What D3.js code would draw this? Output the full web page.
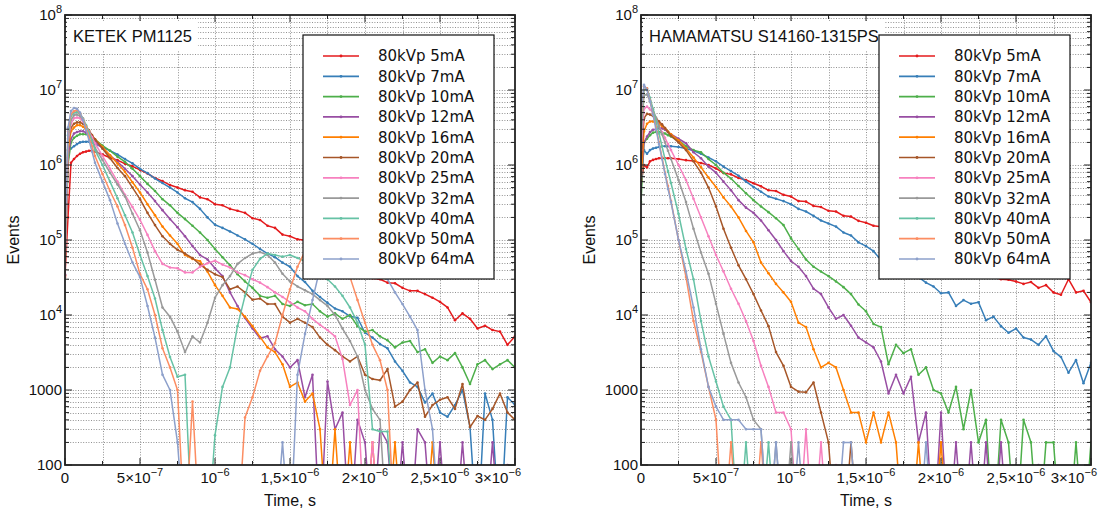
<!DOCTYPE html>
<html><head><meta charset="utf-8">
<script src="https://cdn.jsdelivr.net/npm/d3@7"></script>
<style>
body{margin:0;background:#fff;}
svg{display:block;}
</style></head><body>
<svg id="chart" width="1099" height="510"></svg>
<script>
// time axis, nanoseconds
const timesNs = [0,20,40,60,80,100,120,140,160,180,200,
  250,300,350,400,450,500,550,600,650,700,
  750,800,850,900,950,1000,1050,1100,1150,1200,
  1250,1300,1350,1400,1450,1500,1550,1600,1650,1700,
  1750,1800,1850,1900,1950,2000,2050,2100,2150,2200,
  2250,2300,2350,2400,2450,2500,2550,2600,2650,2700,
  2750,2800,2850,2900,2950,3000];

const seriesLabels = ["80kVp 5mA","80kVp 7mA","80kVp 10mA","80kVp 12mA","80kVp 16mA","80kVp 20mA",
  "80kVp 25mA","80kVp 32mA","80kVp 40mA","80kVp 50mA","80kVp 64mA"];
const seriesColors = ["#e41a1c","#377eb8","#4daf4a","#984ea3","#ff7f00","#a65628",
  "#f781bf","#999999","#66c2a5","#fc8d62","#8da0cb"];

const panelTitles = ["KETEK PM1125","HAMAMATSU S14160-1315PS"];

// ---- KETEK PM1125 (events per time bin) ----
const ketek5 = [3.4e4,2.0e5,1.07e6,1.2e6,1.32e6,1.41e6,1.48e6,1.51e6,1.55e6,1.55e6,1.51e6,
  1.38e6,1.25e6,1.16e6,1.04e6,9.6e5,8.6e5,7.7e5,6.7e5,6.1e5,5.4e5,
  5.0e5,4.6e5,4.4e5,3.7e5,3.5e5,3.0e5,2.9e5,2.6e5,2.45e5,2.3e5,
  1.95e5,1.85e5,1.55e5,1.45e5,1.18e5,1.12e5,1.02e5,9.9e4,8.4e4,7.5e4,
  6.2e4,5.6e4,4.7e4,4.3e4,3.6e4,3.4e4,3.1e4,3.0e4,2.7e4,2.65e4,
  2.3e4,2.1e4,2.1e4,1.9e4,1.7e4,1.5e4,1.26e4,8500,1.05e4,8900,
  6600,7200,6300,6000,4000,5200];
const ketek7 = [5.0e4,1.58e6,1.66e6,1.78e6,1.9e6,2.0e6,2.04e6,2.04e6,2.04e6,2.0e6,1.9e6,
  1.74e6,1.55e6,1.38e6,1.2e6,1.05e6,8.9e5,7.8e5,6.6e5,5.75e5,5.0e5,
  4.3e5,3.6e5,3.2e5,2.6e5,2.0e5,1.6e5,1.45e5,1.3e5,1.15e5,1.02e5,
  8.9e4,7.6e4,6.6e4,5.9e4,5.0e4,4.4e4,3.3e4,2.75e4,2.1e4,1.74e4,
  1.45e4,1.22e4,1.12e4,9600,9200,5800,5000,4100,3600,2400,
  1800,1260,1100,680,900,500,440,630,1000,320,
  0,900,400,0,800,630];
const ketek10 = [4.0e4,1.0e6,2.0e6,2.3e6,2.45e6,2.57e6,2.57e6,2.57e6,2.5e6,2.35e6,2.2e6,
  1.82e6,1.55e6,1.29e6,1.1e6,8.9e5,7.1e5,5.6e5,4.5e5,3.5e5,2.9e5,
  2.3e5,1.9e5,1.55e5,1.26e5,1.0e5,7.6e4,5.9e4,4.6e4,3.5e4,2.8e4,
  2.3e4,1.8e4,1.7e4,1.8e4,1.4e4,1.32e4,1.5e4,1.35e4,1.4e4,1.12e4,
  9500,1.05e4,8900,1.0e4,7100,6000,6300,5200,4600,3700,
  4300,4500,3200,3500,2300,2800,2500,3100,2000,1200,
  2200,2500,1900,2200,2500,2000];
const ketek12 = [3.5e4,1.26e6,2.24e6,2.63e6,2.75e6,2.82e6,2.82e6,2.7e6,2.5e6,2.3e6,2.04e6,
  1.66e6,1.35e6,1.1e6,8.9e5,7.1e5,5.5e5,4.3e5,3.3e5,2.5e5,1.9e5,
  1.48e5,1.12e5,8.3e4,6.3e4,5.5e4,4.2e4,3.3e4,2.0e4,1.32e4,9100,
  6600,4900,5200,3500,2800,2000,2500,800,1600,0,
  1300,300,500,0,400,200,0,300,200,0,
  200,0,300,200,0,200,0,0,200,0,
  100,0,200,0,100,0];
const ketek16 = [3.2e4,1.58e6,2.82e6,3.16e6,3.4e6,3.4e6,3.24e6,3.0e6,2.75e6,2.45e6,2.2e6,
  1.74e6,1.35e6,1.05e6,8.1e5,5.9e5,4.3e5,3.0e5,2.14e5,1.51e5,1.15e5,
  8.9e4,6.3e4,5.6e4,5.2e4,3.8e4,2.5e4,1.8e4,1.26e4,1.2e4,9500,
  7100,5100,3700,3200,2200,1100,1260,700,900,300,
  0,300,0,200,0,0,200,0,0,200,
  0,0,0,0,200,0,0,0,0,0,
  0,0,0,0,0,0];
const ketek20 = [4.0e4,2.0e6,3.16e6,3.55e6,3.7e6,3.7e6,3.55e6,3.24e6,2.9e6,2.5e6,2.2e6,
  1.66e6,1.23e6,9.1e5,7.1e5,5.0e5,3.5e5,2.3e5,1.58e5,1.12e5,8.9e4,
  7.4e4,6.6e4,5.75e4,4.7e4,4.0e4,3.5e4,3.2e4,2.2e4,2.4e4,2.0e4,
  1.6e4,1.66e4,1.4e4,1.4e4,9500,7900,8900,7900,6900,5000,
  4000,3400,2800,2400,2800,1600,1400,1350,1900,600,
  700,1000,1260,440,630,740,800,560,1200,320,
  450,400,560,900,500,400];
const ketek25 = [3.2e4,2.0e6,3.55e6,4.2e6,4.3e6,4.2e6,3.8e6,3.3e6,2.8e6,2.35e6,1.95e6,
  1.32e6,8.9e5,6.0e5,4.0e5,2.75e5,1.86e5,1.17e5,7.1e4,4.8e4,4.3e4,
  4.2e4,3.7e4,3.7e4,4.4e4,4.9e4,5.3e4,4.7e4,4.3e4,3.7e4,3.4e4,
  3.0e4,2.7e4,2.35e4,2.0e4,1.74e4,1.48e4,1.26e4,1.12e4,8900,7400,
  6300,5200,2600,630,1000,0,200,0,0,0,
  0,0,0,0,0,0,0,0,0,0,
  0,0,0,0,0,0];
const ketek32 = [5.0e4,2.24e6,4.0e6,4.6e6,4.7e6,4.5e6,4.0e6,3.3e6,2.7e6,2.14e6,1.7e6,
  1.17e6,7.9e5,5.5e5,3.8e5,2.24e5,1.35e5,6.8e4,2.95e4,1.26e4,9500,
  6000,3200,5200,4300,7900,1.7e4,2.5e4,3.3e4,4.8e4,5.75e4,
  6.6e4,6.9e4,6.3e4,5.0e4,3.55e4,2.8e4,2.4e4,2.14e4,1.9e4,1.58e4,
  1.32e4,1.0e4,6600,4500,2800,1000,560,400,0,0,
  0,0,0,0,0,0,0,0,0,0,
  0,0,0,0,0,0];
const ketek40 = [6.3e4,2.5e6,4.5e6,5.0e6,5.1e6,4.8e6,4.2e6,3.4e6,2.7e6,2.1e6,1.58e6,
  1.0e6,6.0e5,3.6e5,2.14e5,1.26e5,6.3e4,3.3e4,1.66e4,6300,2750,
  1500,1600,0,0,0,250,1100,2000,7100,1.8e4,
  4.0e4,5.6e4,6.6e4,6.3e4,6.0e4,6.3e4,5.75e4,5.2e4,4.5e4,3.8e4,
  3.0e4,2.4e4,1.8e4,1.26e4,7900,4000,300,280,280,0,
  0,0,0,0,0,0,0,0,0,0,
  0,0,0,0,0,0];
const ketek50 = [6.3e4,2.8e6,4.8e6,5.2e6,5.4e6,4.9e6,4.1e6,3.2e6,2.4e6,1.78e6,1.32e6,
  7.6e5,4.5e5,2.8e5,1.58e5,7.9e4,3.5e4,2.2e4,1.0e4,3600,2000,
  1000,0,700,0,0,0,0,0,0,430,
  800,1800,2800,4200,1.0e4,2.2e4,4.4e4,7.1e4,8.9e4,1.0e5,
  1.0e5,7.9e4,5.0e4,3.2e4,1.58e4,7900,4000,2500,1000,0,
  0,0,0,0,0,0,0,0,0,0,
  0,0,0,0,0,0];
const ketek64 = [7.9e4,3.16e6,5.25e6,5.75e6,5.6e6,5.0e6,4.0e6,2.95e6,2.14e6,1.51e6,1.07e6,
  6.0e5,3.4e5,1.66e5,8.9e4,5.0e4,3.2e4,1.32e4,5000,1600,1000,
  200,0,0,0,0,0,0,0,0,0,
  0,0,0,0,200,0,1600,5600,1.58e4,4.2e4,
  7.1e4,1.0e5,1.26e5,1.4e5,1.4e5,1.26e5,1.0e5,6.3e4,3.0e4,2.0e4,
  1.4e4,9500,6300,1000,300,0,0,0,0,0,
  0,0,0,0,0,0];

// ---- HAMAMATSU S14160-1315PS ----
const hama5 = [5.75e5,1.0e6,9.3e5,1.12e6,1.17e6,1.2e6,1.23e6,1.23e6,1.23e6,1.23e6,1.23e6,
  1.2e6,1.16e6,1.13e6,1.06e6,1.0e6,9.0e5,7.8e5,7.5e5,6.7e5,6.3e5,
  5.7e5,5.2e5,4.6e5,4.5e5,4.0e5,3.8e5,3.3e5,3.25e5,2.85e5,2.75e5,
  2.45e5,2.4e5,2.1e5,2.05e5,1.8e5,1.7e5,1.55e5,1.5e5,1.35e5,1.2e5,
  1.07e5,9.5e4,8.5e4,7.6e4,6.8e4,6.2e4,5.5e4,5.0e4,4.5e4,4.0e4,
  3.6e4,3.3e4,3.2e4,3.0e4,2.95e4,2.8e4,2.6e4,2.75e4,2.3e4,2.5e4,
  2.0e4,1.86e4,3.0e4,2.0e4,2.1e4,1.48e4];
const hama7 = [7.9e5,1.58e6,1.41e6,1.58e6,1.66e6,1.7e6,1.74e6,1.78e6,1.78e6,1.78e6,1.78e6,
  1.74e6,1.66e6,1.55e6,1.41e6,1.26e6,1.12e6,9.5e5,8.3e5,7.2e5,6.0e5,
  5.1e5,4.4e5,3.8e5,3.55e5,3.3e5,3.0e5,2.6e5,2.4e5,2.1e5,1.82e5,
  1.66e5,1.51e5,1.26e5,1.15e5,9.3e4,8.3e4,7.1e4,5.4e4,5.0e4,4.5e4,
  4.2e4,3.8e4,3.2e4,2.7e4,2.4e4,1.95e4,2.0e4,1.32e4,1.58e4,1.41e4,
  1.48e4,8500,9500,7100,5800,6600,5000,4700,4000,5200,
  3300,2750,1700,2500,1230,2300];
const hama10 = [3.2e5,2.0e6,2.24e6,2.5e6,2.7e6,2.75e6,2.75e6,2.7e6,2.63e6,2.5e6,2.4e6,
  2.14e6,1.78e6,1.58e6,1.48e6,1.2e6,1.0e6,7.9e5,6.6e5,5.25e5,4.2e5,
  3.4e5,2.8e5,2.35e5,1.95e5,1.58e5,1.05e5,7.6e4,5.5e4,4.4e4,3.8e4,
  3.3e4,2.8e4,2.35e4,1.9e4,1.38e4,1.12e4,7600,6900,2200,4000,
  3100,3500,1600,2000,1000,900,500,1100,300,1000,
  200,400,0,400,200,0,400,200,0,200,
  200,0,0,200,0,200];
const hama12 = [5.0e5,2.0e6,2.4e6,2.75e6,2.95e6,3.0e6,3.1e6,3.1e6,2.95e6,2.75e6,2.57e6,
  2.24e6,1.95e6,1.48e6,1.23e6,9.5e5,7.9e5,6.0e5,4.6e5,3.4e5,2.7e5,
  2.3e5,1.82e5,1.35e5,1.0e5,7.1e4,5.25e4,4.4e4,3.3e4,2.24e4,1.9e4,
  1.26e4,8900,1.0e4,7200,5000,4300,3700,2400,900,1600,
  900,1500,200,500,0,500,0,200,0,200,
  0,200,0,200,0,100,0,0,100,0,
  0,0,0,0,0,0];
const hama16 = [6.3e5,2.8e6,3.55e6,3.8e6,3.8e6,3.7e6,3.55e6,3.3e6,3.1e6,2.8e6,2.57e6,
  2.14e6,1.66e6,1.26e6,9.3e5,6.8e5,5.1e5,3.7e5,2.8e5,2.0e5,1.32e5,
  9.3e4,5.0e4,3.6e4,2.6e4,2.0e4,1.5e4,7900,6900,3500,2000,
  2300,2000,1000,500,500,200,500,200,500,200,
  0,0,200,0,0,200,0,0,0,0,
  0,0,0,0,0,0,0,0,0,0,
  0,0,0,0,0,0];
const hama20 = [1.0e6,4.2e6,4.8e6,4.7e6,4.5e6,4.2e6,3.8e6,3.5e6,3.1e6,2.75e6,2.45e6,
  2.0e6,1.58e6,1.12e6,7.9e5,5.0e5,2.8e5,1.41e5,7.9e4,4.6e4,3.0e4,
  1.9e4,1.15e4,7100,3200,2100,1100,950,930,1260,500,
  200,0,0,200,0,0,0,0,0,0,
  0,0,0,0,0,0,0,0,0,0,
  0,0,0,0,0,0,0,0,0,0,
  0,0,0,0,0,0];
const hama25 = [1.58e6,5.6e6,6.0e6,5.5e6,5.0e6,4.0e6,3.3e6,2.75e6,2.3e6,1.9e6,1.58e6,
  1.0e6,6.3e5,3.55e5,2.0e5,1.12e5,6.3e4,3.8e4,2.24e4,1.41e4,8300,
  4500,2100,1100,500,500,300,0,300,0,200,
  0,100,0,0,0,0,0,0,0,0,
  0,0,0,0,0,0,0,0,0,0,
  0,0,0,0,0,0,0,0,0,0,
  0,0,0,0,0,0];
const hama32 = [2.0e6,8.5e6,8.7e6,7.1e6,5.5e6,4.3e6,3.3e6,2.57e6,2.0e6,1.55e6,1.2e6,
  6.3e5,3.2e5,1.41e5,6.8e4,3.55e4,1.41e4,5600,2300,1260,800,
  400,300,0,200,0,200,0,0,0,0,
  0,0,0,0,0,0,0,0,0,0,
  0,0,0,0,0,0,0,0,0,0,
  0,0,0,0,0,0,0,0,0,0,
  0,0,0,0,0,0];
const hama40 = [3.2e6,1.0e7,1.05e7,7.9e6,5.6e6,3.8e6,2.63e6,1.78e6,1.2e6,8.3e5,5.75e5,
  2.24e5,7.6e4,3.0e4,8300,2800,1300,600,400,0,200,
  0,0,200,0,0,0,0,0,0,0,
  0,0,0,0,0,0,0,0,0,0,
  0,0,0,0,0,0,0,0,0,0,
  0,0,0,0,0,0,0,0,0,0,
  0,0,0,0,0,0];
const hama50 = [4.0e6,1.12e7,1.05e7,7.2e6,4.8e6,3.2e6,2.0e6,1.26e6,7.9e5,5.25e5,3.3e5,
  1.0e5,3.2e4,8300,3200,1100,400,0,200,0,0,
  0,200,0,0,0,0,0,0,0,0,
  0,0,0,0,0,0,0,0,0,0,
  0,0,0,0,0,0,0,0,0,0,
  0,0,0,0,0,0,0,0,0,0,
  0,0,0,0,0,0];
const hama64 = [5.0e6,1.17e7,1.0e7,7.1e6,4.7e6,3.0e6,1.9e6,1.2e6,7.6e5,4.8e5,3.2e5,
  1.0e5,3.8e4,1.26e4,3500,1100,600,400,400,400,300,
  300,300,0,200,0,0,200,0,0,0,
  0,0,200,200,0,0,0,0,0,0,
  0,0,0,200,0,0,0,0,0,0,
  0,0,0,0,0,0,0,0,0,0,
  0,0,0,0,0,0];

// ---- axes ----
const yTickValues = [1e8,1e7,1e6,1e5,1e4,1000,100];
const yTickLabels = [["10","8"],["10","7"],["10","6"],["10","5"],["10","4"],["1000",""],["100",""]];
const xTickValues = [0,5e-7,1e-6,1.5e-6,2e-6,2.5e-6,3e-6];
const xTickLabels = [["0",""],["5\u00d710","\u22127"],["10","\u22126"],["1,5\u00d710","\u22126"],
  ["2\u00d710","\u22126"],["2,5\u00d710","\u22126"],["3\u00d710","\u22126"]];
const xAxisTitle = "Time, s";
const yAxisTitle = "Events";

const panels = [
  {title: panelTitles[0], series: [ketek5,ketek7,ketek10,ketek12,ketek16,ketek20,ketek25,ketek32,ketek40,ketek50,ketek64], left: 65},
  {title: panelTitles[1], series: [hama5,hama7,hama10,hama12,hama16,hama20,hama25,hama32,hama40,hama50,hama64], left: 641}
];

const svg = d3.select("#chart");
const TOP = 15, W = 450, H = 450;
const tickFont = "'Liberation Sans', Arial, sans-serif";

panels.forEach((p, pi) => {
  const g = svg.append("g");
  const x = d3.scaleLinear().domain([0, 3e-6]).range([p.left, p.left + W]);
  const y = d3.scaleLog().domain([100, 1e8]).range([TOP + H, TOP]);

  // grid
  const xGrid = d3.range(1, 12).map(i => i * 2.5e-7);
  const yGrid = [];
  for (let e = 2; e < 8; e++) for (let m = 1; m < 10; m++) { const v = m * Math.pow(10, e); if (v > 100) yGrid.push(v); }
  const grid = g.append("g").attr("stroke", "#858585").attr("stroke-width", 0.9).attr("stroke-dasharray", "1,1.6");
  grid.selectAll("line.gx").data(xGrid).join("line")
    .attr("x1", d => Math.round(x(d)) + 0.5).attr("x2", d => Math.round(x(d)) + 0.5)
    .attr("y1", TOP).attr("y2", TOP + H);
  grid.selectAll("line.gy").data(yGrid).join("line")
    .attr("y1", d => Math.round(y(d)) + 0.5).attr("y2", d => Math.round(y(d)) + 0.5)
    .attr("x1", p.left).attr("x2", p.left + W);

  // clip
  const clipId = "clip" + pi;
  svg.append("clipPath").attr("id", clipId).append("rect")
    .attr("x", p.left).attr("y", TOP).attr("width", W).attr("height", H);
  const plot = g.append("g").attr("clip-path", `url(#${clipId})`);

  const line = d3.line().x(d => x(d.t)).y(d => y(Math.max(d.v, 10)));
  p.series.forEach((s, si) => {
    const pts = timesNs.map((t, i) => ({t: t * 1e-9, v: s[i] === undefined ? 0 : s[i]}));
    plot.append("path").attr("d", line(pts)).attr("fill", "none")
      .attr("stroke", seriesColors[si]).attr("stroke-width", 1.5).attr("stroke-linejoin", "round");
    plot.selectAll(null).data(pts.filter(d => d.v > 0)).join("circle")
      .attr("cx", d => x(d.t)).attr("cy", d => y(d.v)).attr("r", 1.3)
      .attr("fill", seriesColors[si]);
  });

  // frame ticks (inward, all sides)
  const ticks = g.append("g").attr("stroke", "#222").attr("stroke-width", 1);
  const yMinor = yGrid.filter(v => !yTickValues.includes(v));
  [[yTickValues, 7], [yMinor, 4]].forEach(([vals, len]) => {
    ticks.selectAll(null).data(vals).join("line")
      .attr("x1", p.left).attr("x2", p.left + len).attr("y1", d => y(d)).attr("y2", d => y(d));
    ticks.selectAll(null).data(vals).join("line")
      .attr("x1", p.left + W).attr("x2", p.left + W - len).attr("y1", d => y(d)).attr("y2", d => y(d));
  });
  const xMinor = xGrid.filter((v, i) => i % 2 === 0);
  [[xTickValues, 7], [xMinor, 4]].forEach(([vals, len]) => {
    ticks.selectAll(null).data(vals).join("line")
      .attr("y1", TOP + H).attr("y2", TOP + H - len).attr("x1", d => x(d)).attr("x2", d => x(d));
    ticks.selectAll(null).data(vals).join("line")
      .attr("y1", TOP).attr("y2", TOP + len).attr("x1", d => x(d)).attr("x2", d => x(d));
  });

  // frame
  g.append("rect").attr("x", p.left).attr("y", TOP).attr("width", W).attr("height", H)
    .attr("fill", "none").attr("stroke", "#222").attr("stroke-width", 1.8);

  // y tick labels
  yTickValues.forEach((v, i) => {
    const t = g.append("text").attr("x", p.left - 3).attr("y", y(v)).attr("dy", "0.36em")
      .attr("text-anchor", "end").attr("font-family", tickFont).attr("font-size", 15).attr("fill", "#111");
    t.append("tspan").text(yTickLabels[i][0]);
    if (yTickLabels[i][1]) t.append("tspan").attr("dy", -7).attr("font-size", 11).text(yTickLabels[i][1]);
  });
  // x tick labels
  xTickValues.forEach((v, i) => {
    const last = i === xTickValues.length - 1;
    const t = g.append("text").attr("x", x(v) + (last ? 6 : 0)).attr("y", 483)
      .attr("text-anchor", last ? "end" : "middle").attr("font-family", tickFont).attr("font-size", 15).attr("fill", "#111");
    t.append("tspan").text(xTickLabels[i][0]);
    if (xTickLabels[i][1]) t.append("tspan").attr("dy", -7).attr("font-size", 11).text(xTickLabels[i][1]);
  });

  // axis titles
  g.append("text").attr("x", p.left + W / 2).attr("y", 506).attr("text-anchor", "middle")
    .attr("font-family", tickFont).attr("font-size", 16).attr("fill", "#111").text(xAxisTitle);
  g.append("text").attr("transform", `translate(${p.left - 46},240) rotate(-90)`).attr("text-anchor", "middle")
    .attr("font-family", tickFont).attr("font-size", 16).attr("fill", "#111").text(yAxisTitle);

  // panel title with white backing
  const tb = g.append("rect").attr("x", p.left + 2).attr("y", 21).attr("height", 29).attr("fill", "#fff");
  const tt = g.append("text").attr("x", p.left + 8).attr("y", 42).attr("font-family", tickFont)
    .attr("font-size", 16.5).attr("fill", "#111").text(p.title);
  tb.attr("width", tt.node().getComputedTextLength() + 12);

  // legend
  const lg = g.append("g");
  lg.append("rect").attr("x", p.left + 238).attr("y", 35).attr("width", 191).attr("height", 244)
    .attr("fill", "#fff").attr("stroke", "#111").attr("stroke-width", 1.2);
  seriesLabels.forEach((lab, i) => {
    const ry = 56 + i * 20.3;
    lg.append("line").attr("x1", p.left + 258).attr("x2", p.left + 294).attr("y1", ry).attr("y2", ry)
      .attr("stroke", seriesColors[i]).attr("stroke-width", 1.7);
    lg.append("circle").attr("cx", p.left + 276).attr("cy", ry).attr("r", 1.4).attr("fill", seriesColors[i]);
    lg.append("text").attr("x", p.left + 313).attr("y", ry).attr("dy", "0.36em")
      .attr("font-family", "'DejaVu Sans', Verdana, sans-serif").attr("font-size", 15).attr("fill", "#111").text(lab);
  });
});
</script>
</body></html>
